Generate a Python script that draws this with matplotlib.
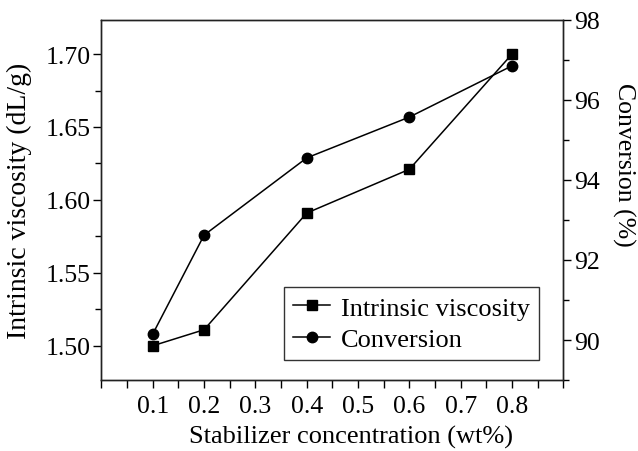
import matplotlib
matplotlib.use("Agg")
import matplotlib.pyplot as plt
from matplotlib.ticker import MultipleLocator

# values
conc = [0.1, 0.2, 0.4, 0.6, 0.8]
viscosity = [1.500, 1.511, 1.591, 1.621, 1.700]
conversion = [90.15, 92.62, 94.55, 95.57, 96.85]
x_ticks = [0.1, 0.2, 0.3, 0.4, 0.5, 0.6, 0.7, 0.8]

plt.rcParams['font.family'] = ['Liberation Serif', 'DejaVu Serif']
plt.rcParams['font.size'] = 18.5

fig = plt.figure(figsize=(6.38, 4.52), dpi=100)
ax = fig.add_axes([0.159, 0.157, 0.724, 0.797])
ax2 = ax.twinx()

l1, = ax.plot(conc, viscosity, color='black', lw=1.1, marker='s', ms=7.5,
              label='Intrinsic viscosity')
l2, = ax2.plot(conc, conversion, color='black', lw=1.1, marker='o', ms=7.5,
               label='Conversion')

ax.set_xlim(0, 0.9)
ax.set_ylim(1.4765, 1.7235)
ax2.set_ylim(89, 98)

ax.set_xticks(x_ticks)
ax.set_xticklabels([f'{v:.1f}' for v in x_ticks])
ax.xaxis.set_minor_locator(MultipleLocator(0.05))
ax.set_yticks([1.50, 1.55, 1.60, 1.65, 1.70])
ax.set_yticklabels(['1.50', '1.55', '1.60', '1.65', '1.70'])
ax.yaxis.set_minor_locator(MultipleLocator(0.025))
ax2.set_yticks([90, 92, 94, 96, 98])
ax2.yaxis.set_minor_locator(MultipleLocator(1))

for a in (ax, ax2):
    a.tick_params(which='major', length=6, width=1, direction='out', pad=2)
    a.tick_params(which='minor', length=4, width=1, direction='out')
    for s in a.spines.values():
        s.set_linewidth(1)
        s.set_color('#222222')
ax.tick_params(axis='x', which='both', length=6, top=False, pad=5)

ax.set_xlabel('Stabilizer concentration (wt%)', fontsize=19)
ax.xaxis.set_label_coords(0.54, -0.125)
ax.set_ylabel('Intrinsic viscosity (dL/g)', fontsize=20)
ax.yaxis.set_label_coords(-0.15, 0.5)
ax2.set_ylabel('Conversion (%)', fontsize=18.5, rotation=270, va='center')
ax2.yaxis.set_label_coords(1.13, 0.6)

leg = ax.legend(handles=[l1, l2], loc='lower right', bbox_to_anchor=(0.947, 0.055),
                frameon=True, fancybox=False, edgecolor='black', borderpad=0.35,
                borderaxespad=0, handlelength=1.4, handletextpad=0.4,
                labelspacing=0.3, fontsize=19)
leg.get_frame().set_linewidth(1)

fig.savefig('out.png', dpi=100)
